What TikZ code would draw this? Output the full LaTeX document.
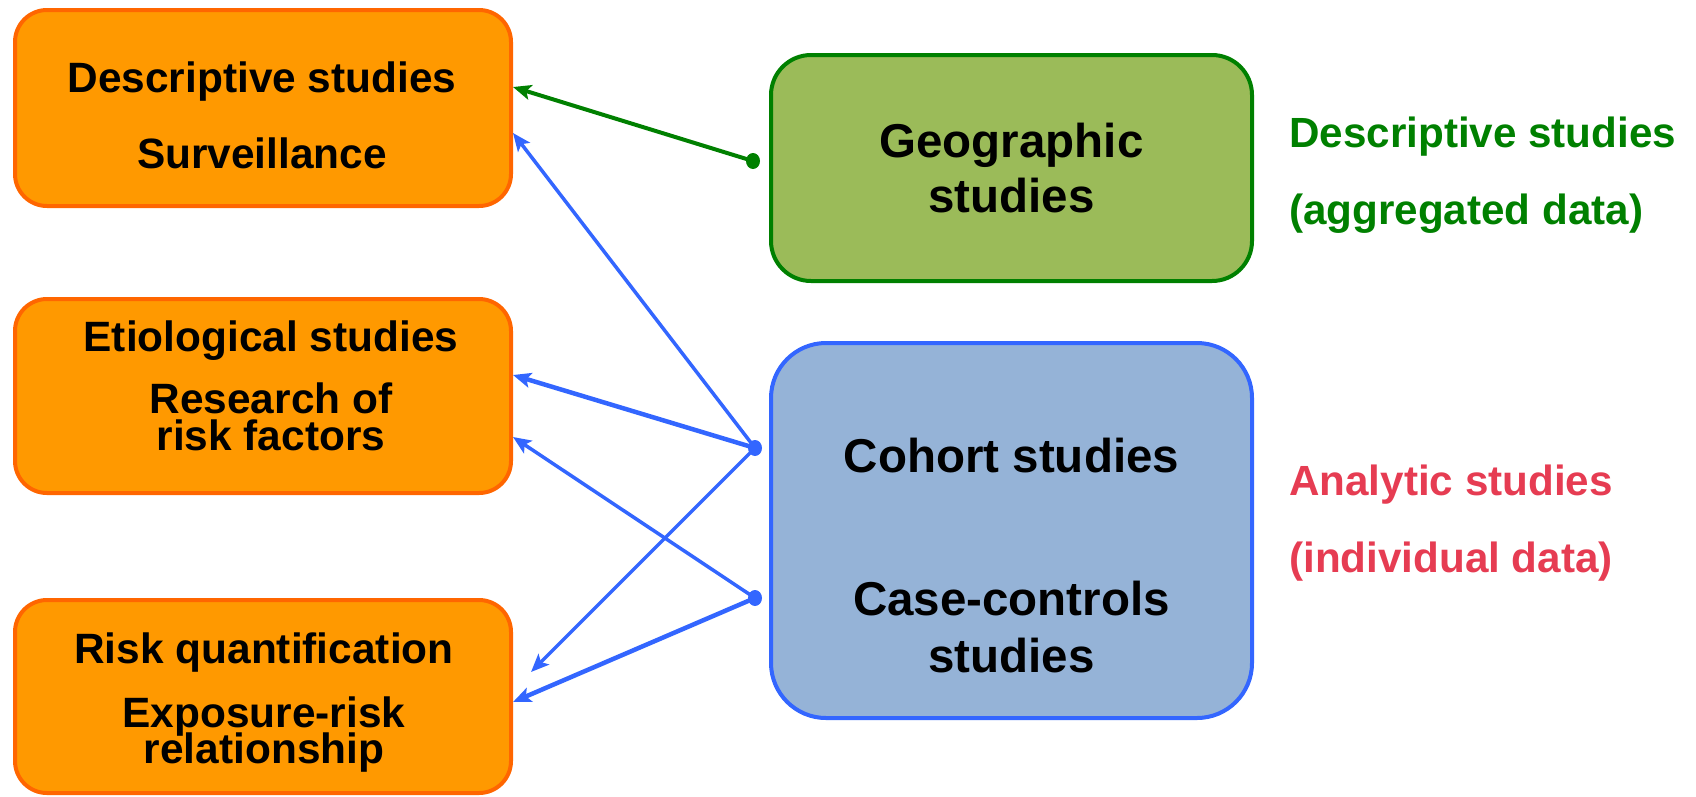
\documentclass[tikz,border=0pt]{standalone}
\usepackage{fontspec}
\setmainfont{Liberation Sans}
\usetikzlibrary{arrows.meta}
\definecolor{orfill}{HTML}{FF9900}
\definecolor{ordraw}{HTML}{FF6600}
\definecolor{grfill}{HTML}{9BBB59}
\definecolor{grdraw}{HTML}{008000}
\definecolor{blfill}{HTML}{95B3D7}
\definecolor{bldraw}{HTML}{3366FF}
\definecolor{redtxt}{HTML}{E63C52}
\tikzset{
  orbox/.style={draw=ordraw, fill=orfill, line width=4pt, rounded corners=32pt,
    minimum width=496pt, inner sep=0pt},
  grbox/.style={draw=grdraw, fill=grfill, line width=4pt, rounded corners=40pt,
    minimum width=481pt, minimum height=226pt, inner sep=0pt},
  blbox/.style={draw=bldraw, fill=blfill, line width=4pt, rounded corners=55pt,
    minimum width=481pt, minimum height=375pt, inner sep=0pt},
  txt/.style={anchor=base, inner sep=0pt, font=\bfseries\fontsize{42.4pt}{48pt}\selectfont},
  btxt/.style={anchor=base, inner sep=0pt, font=\bfseries\fontsize{47.5pt}{52pt}\selectfont},
  lbl/.style={anchor=base west, inner sep=0pt, font=\bfseries\fontsize{42.2pt}{48pt}\selectfont},
  dotmark/.style={ellipse, inner sep=0pt, minimum width=14pt, minimum height=16pt},
  garrow/.style={draw=grdraw, line width=4pt, -{Stealth[length=18pt,width=15pt,inset=4pt]}},
  barrow/.style={draw=bldraw, line width=3.5pt, -{Stealth[length=18pt,width=15pt,inset=4pt]}},
  bthick/.style={barrow, line width=4.5pt},
}
\usetikzlibrary{shapes.geometric}
\begin{document}
\begin{tikzpicture}[x=1pt, y=-1pt]
\useasboundingbox (0,0) rectangle (1696,796);

% boxes
\node[orbox, minimum height=196pt] (b1) at (263,108) {};
\node[orbox, minimum height=194pt] (b2) at (263,396) {};
\node[orbox, minimum height=193pt] (b3) at (263,696.5) {};
\node[grbox] (geo) at (1011.5,168) {};
\node[blbox] (ana) at (1011.5,530.5) {};

% texts in orange boxes
\node[txt] (t1a) at (262,92) {Descriptive studies};
\node[txt] (t1b) at (262,168) {Surveillance};
\node[txt] (t2a) at (271,351) {Etiological studies};
\node[txt] (t2b) at (271,413) {Research of};
\node[txt] (t2c) at (271,450) {risk factors};
\node[txt] (t3a) at (264,663) {Risk quantification};
\node[txt] (t3b) at (264,727) {Exposure-risk};
\node[txt] (t3c) at (264,763) {relationship};

% texts in green / blue boxes
\node[btxt] (g1) at (1011.5,157) {Geographic};
\node[btxt] (g2) at (1011.5,212) {studies};
\node[btxt] (c1) at (1011.5,472) {Cohort studies};
\node[btxt] (c2) at (1011.5,615) {Case-controls};
\node[btxt] (c3) at (1011.5,672) {studies};

% right labels
\node[lbl, text=grdraw] (l1) at (1289,147) {Descriptive studies};
\node[lbl, text=grdraw] (l2) at (1289,224) {(aggregated data)};
\node[lbl, text=redtxt] (l3) at (1289,495) {Analytic studies};
\node[lbl, text=redtxt] (l4) at (1289,572) {(individual data)};

% connector start dots and free end
\node[dotmark, fill=grdraw] (gdot) at (753,161) {};
\node[dotmark, fill=bldraw] (cdot) at (755,448) {};
\node[dotmark, fill=bldraw] (kdot) at (755,598) {};
\coordinate (free) at (531,672);

% connectors
\draw[garrow] (gdot.center) -- ([yshift=21pt]b1.east);
\draw[barrow] (cdot.center) -- ([yshift=-25pt]b1.east);
\draw[bthick] (cdot.center) -- ([yshift=21pt]b2.east);
\draw[barrow] (cdot.center) -- (free);
\draw[barrow] (kdot.center) -- ([yshift=-41pt]b2.east);
\draw[bthick] (kdot.center) -- ([yshift=-5.5pt]b3.east);
\end{tikzpicture}
\end{document}
